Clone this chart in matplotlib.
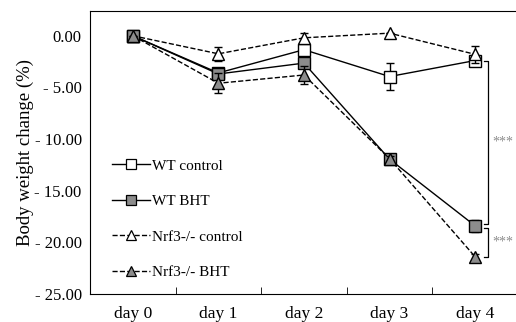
import matplotlib.pyplot as plt
from matplotlib.lines import Line2D
import numpy as np

plt.rcParams['font.family'] = ['Liberation Serif', 'DejaVu Serif']

days = ['day 0', 'day 1', 'day 2', 'day 3', 'day 4']
ytick_vals = [0, -5, -10, -15, -20, -25]
ytick_labels = ['0.00', '- 5.00', '- 10.00', '- 15.00', '- 20.00', '- 25.00']

wt_ctrl = [0.0, -3.6, -1.35, -3.95, -2.4]
wt_ctrl_err = [0.0, 0.3, 0.4, 1.3, 0.4]
wt_bht = [0.0, -3.7, -2.65, -11.95, -18.4]
wt_bht_err = [0.0, 0.4, 0.5, 0.3, 0.6]
ko_ctrl = [0.0, -1.75, -0.2, 0.25, -1.8]
ko_ctrl_err = [0.0, 0.65, 0.5, 0.0, 0.8]
ko_bht = [0.0, -4.6, -3.8, -11.9, -21.4]
ko_bht_err = [0.0, 0.95, 0.9, 0.3, 0.3]

grey = '#8c8c8c'
x = np.arange(len(days))

fig = plt.figure(figsize=(5.16, 3.22), dpi=100)
ax = fig.add_axes([0.1744, 0.087, 0.826, 0.879])

common = dict(color='black', lw=1.0, capsize=3, elinewidth=1.0, capthick=1.0,
              markersize=8.5, markeredgecolor='black', markeredgewidth=1.0)
ax.errorbar(x, wt_ctrl, yerr=wt_ctrl_err, ls='-', marker='s', markerfacecolor='white',
            zorder=3, **common)
ax.errorbar(x, ko_ctrl, yerr=ko_ctrl_err, ls='--', marker='^', markerfacecolor='white',
            zorder=4, **common)
ax.errorbar(x, wt_bht, yerr=wt_bht_err, ls='-', marker='s', markerfacecolor=grey,
            zorder=5, **common)
ax.errorbar(x, ko_bht, yerr=ko_bht_err, ls='--', marker='^', markerfacecolor=grey,
            zorder=6, **common)

# significance brackets
bx = 4.15
for top, bot in [(wt_ctrl[4], wt_bht[4] + 0.2), (wt_bht[4] - 0.2, ko_bht[4])]:
    ax.plot([bx - 0.05, bx, bx, bx - 0.05], [top, top, bot, bot], color='black', lw=0.9)
    ax.text(bx + 0.05, (top + bot) / 2, '***', color=grey, fontsize=10,
            ha='left', va='center')

lk = dict(color='black', lw=1.0, markersize=6.5, markeredgecolor='black', markeredgewidth=0.9)
handles = [
    Line2D([], [], ls='-', marker='s', markerfacecolor='white', **lk),
    Line2D([], [], ls='-', marker='s', markerfacecolor=grey, **lk),
    Line2D([], [], ls='--', marker='^', markerfacecolor='white', **lk),
    Line2D([], [], ls='--', marker='^', markerfacecolor=grey, **lk),
]
labels = ['WT control', 'WT BHT', 'Nrf3-/- control', 'Nrf3-/- BHT']
ax.legend(handles, labels, loc='upper left', bbox_to_anchor=(0.02, 0.525), frameon=False,
          fontsize=11, handlelength=2.5, handletextpad=0.1, labelspacing=1.42)

ax.set_xlim(-0.5, 4.48)
ax.set_ylim(-25, 2.4)
ax.set_xticks(x)
ax.set_xticklabels(days, fontsize=12.5)
ax.set_xticks(np.arange(0.5, 4.0, 1.0), minor=True)
ax.tick_params(axis='x', which='major', length=0, pad=9)
ax.tick_params(axis='x', which='minor', direction='in', length=5)
ax.set_yticks(ytick_vals)
ax.set_yticklabels(ytick_labels, fontsize=12)
ax.tick_params(axis='y', length=0, pad=6)
ax.set_ylabel('Body weight change (%)', fontsize=13.5, labelpad=0)
ax.spines['right'].set_visible(False)

fig.savefig('out.png', dpi=100)
